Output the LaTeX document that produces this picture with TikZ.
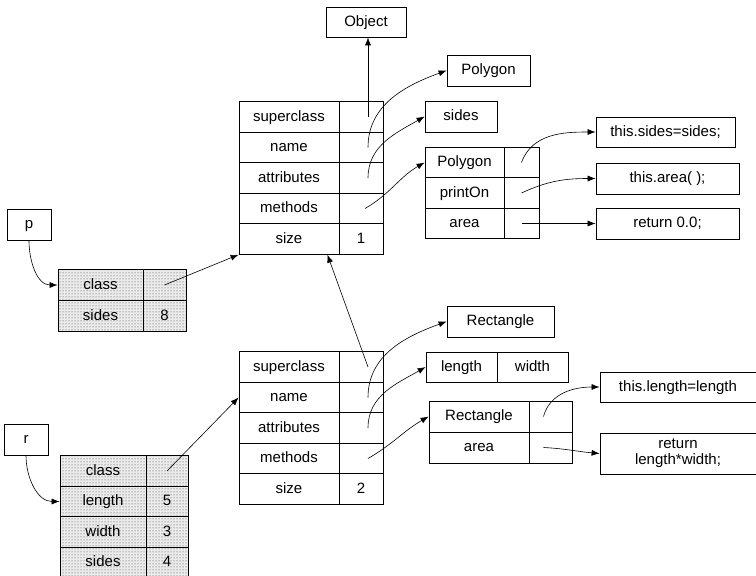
\documentclass[tikz,border=0pt]{standalone}
\usepackage{fontspec}
\setmainfont{Liberation Sans}
\usetikzlibrary{arrows.meta, patterns}

\begin{document}
\begin{tikzpicture}[
    x=1pt, y=1pt,
    every node/.style={font=\fontsize{15}{17}\selectfont, text height=11pt, text depth=3pt},
    >={Latex[length=8pt,width=6pt]},
    cell/.style={draw, line width=0.8pt, inner sep=0pt, minimum height=30.5pt},
    keycell/.style={cell, minimum width=100pt},
    valcell/.style={cell, minimum width=44pt},
    box/.style={draw, line width=0.8pt, inner sep=0pt, minimum height=31pt},
    stipple/.style={preaction={fill=black!8}, pattern=dots, pattern color=black!75},
    ptr/.style={->, line width=0.6pt},
]

\useasboundingbox (0,0) rectangle (756,-576);

% --- Top: root class ---
\node[box, minimum width=80pt, minimum height=30pt] (obj) at (366,-22) {Object};

% --- Polygon class object ---
\node[keycell] (polysup)   at (289,-117)   {superclass};
\node[valcell] (polysupv)  at (361,-117)   {};
\node[keycell] (polyname)  at (289,-147.5) {name};
\node[valcell] (polynamev) at (361,-147.5) {};
\node[keycell] (polyattr)  at (289,-178)   {attributes};
\node[valcell] (polyattrv) at (361,-178)   {};
\node[keycell] (polymeth)  at (289,-208.5) {methods};
\node[valcell] (polymethv) at (361,-208.5) {};
\node[keycell] (polysize)  at (289,-239)   {size};
\node[valcell] (polysizev) at (361,-239)   {1};

% Polygon name, fields and method table
\node[box, minimum width=83pt] (polytitle)  at (488.5,-70.5) {Polygon};
\node[box, minimum width=72pt] (polyfields) at (461,-116.5)  {sides};

\node[cell, minimum width=79pt] (polyctor)   at (464.5,-162.5) {Polygon};
\node[cell, minimum width=35pt] (polyctorv)  at (521.5,-162.5) {};
\node[cell, minimum width=79pt] (polyprint)  at (464.5,-193)   {printOn};
\node[cell, minimum width=35pt] (polyprintv) at (521.5,-193)   {};
\node[cell, minimum width=79pt] (polyarea)   at (464.5,-223.5) {area};
\node[cell, minimum width=35pt] (polyareav)  at (521.5,-223.5) {};

% method bodies
\node[box, minimum width=139pt, minimum height=30pt] (ctorbody)  at (665.5,-132)   {this.sides=sides;};
\node[box, minimum width=143pt] (printbody) at (667.5,-178.5) {this.area( );};
\node[box, minimum width=143pt] (areabody)  at (667.5,-223.5) {return 0.0;};

% --- Rectangle class object ---
\node[keycell] (rectsup)   at (289,-367)   {superclass};
\node[valcell] (rectsupv)  at (361,-367)   {};
\node[keycell] (rectname)  at (289,-397.5) {name};
\node[valcell] (rectnamev) at (361,-397.5) {};
\node[keycell] (rectattr)  at (289,-428)   {attributes};
\node[valcell] (rectattrv) at (361,-428)   {};
\node[keycell] (rectmeth)  at (289,-458.5) {methods};
\node[valcell] (rectmethv) at (361,-458.5) {};
\node[keycell] (rectsize)  at (289,-489)   {size};
\node[valcell] (rectsizev) at (361,-489)   {2};

% Rectangle name, fields and method table
\node[box, minimum width=107pt] (recttitle) at (500.5,-321.5) {Rectangle};
\node[box, minimum width=71pt, minimum height=30pt] (rectlen) at (461.5,-367) {length};
\node[box, minimum width=71pt, minimum height=30pt] (rectwid) at (532.5,-367) {width};

\node[cell, minimum width=100pt, minimum height=31pt] (rectctor)  at (479,-416.5)   {Rectangle};
\node[cell, minimum width=43pt, minimum height=31pt]  (rectctorv) at (550.5,-416.5) {};
\node[cell, minimum width=100pt, minimum height=31pt] (rectarea)  at (479,-447.5)   {area};
\node[cell, minimum width=43pt, minimum height=31pt]  (rectareav) at (550.5,-447.5) {};

% method bodies
\node[box, minimum width=156pt, minimum height=30pt] (lenbody) at (678,-387) {this.length=length};
\node[box, minimum width=156pt, minimum height=41pt, align=center, text height=, text depth=,
      font=\fontsize{15}{16}\selectfont]
      (rareabody) at (678,-453.5) {return\\length*width;};

% --- Left: instances ---
\node[box, minimum width=44pt] (pvar) at (29,-224.5) {p};
\node[cell, stipple, minimum width=85pt, minimum height=31pt] (pclass)  at (100.5,-285) {class};
\node[cell, stipple, minimum width=43pt, minimum height=31pt] (pclassv) at (164.5,-285) {};
\node[cell, stipple, minimum width=85pt, minimum height=31pt] (psides)  at (100.5,-316) {sides};
\node[cell, stipple, minimum width=43pt, minimum height=31pt] (psidesv) at (164.5,-316) {8};

\node[box, minimum width=44pt] (rvar) at (26,-439.5) {r};
\node[cell, stipple, minimum width=86pt] (rclass)  at (103,-471)   {class};
\node[cell, stipple, minimum width=42pt] (rclassv) at (167,-471)   {};
\node[cell, stipple, minimum width=86pt] (rlen)    at (103,-501.5) {length};
\node[cell, stipple, minimum width=42pt] (rlenv)   at (167,-501.5) {5};
\node[cell, stipple, minimum width=86pt] (rwid)    at (103,-532)   {width};
\node[cell, stipple, minimum width=42pt] (rwidv)   at (167,-532)   {3};
\node[cell, stipple, minimum width=86pt] (rsides)  at (103,-562.5) {sides};
\node[cell, stipple, minimum width=42pt] (rsidesv) at (167,-562.5) {4};

% --- Arrows ---
\draw[ptr] ([xshift=7pt]polysupv.center) -- ([xshift=7pt]polysupv.center |- obj.south);
\draw[ptr] ([xshift=7pt]polynamev.center) to[out=90,in=200] (polytitle.west);
\draw[ptr] ([xshift=7pt]polyattrv.center) to[out=90,in=210] (polyfields.west);
\draw[ptr] ([xshift=4pt]polymethv.center) to[out=30,in=210] (polyctor.west);
\draw[ptr] (polyctorv.center) to[out=70,in=180] (ctorbody.west);
\draw[ptr] (polyprintv.center) to[out=25,in=180] (printbody.west);
\draw[ptr] (polyareav.center) -- (areabody.west);

\draw[ptr] ([xshift=7pt]rectsupv.center) -- ([xshift=-12pt]polysize.south east);
\draw[ptr] ([xshift=7pt]rectnamev.center) to[out=90,in=200] (recttitle.west);
\draw[ptr] ([xshift=7pt]rectattrv.center) to[out=90,in=210] (rectlen.west);
\draw[ptr] ([xshift=7pt]rectmethv.center) to[out=30,in=210] (rectctor.west);
\draw[ptr] ([xshift=-7pt]rectctorv.center) to[out=75,in=180] (lenbody.west);
\draw[ptr] ([xshift=-7pt]rectareav.center) to[out=-3,in=175] (rareabody.west);

% instance pointers
\draw[ptr] (pvar.south) to[out=-90,in=180] (pclass.west);
\draw[ptr] (pclassv.center) -- (polysize.south west);
\draw[ptr] (rvar.south) to[out=-90,in=180] (rlen.west);
\draw[ptr] (rclassv.center) -- (rectname.west);

\end{tikzpicture}
\end{document}
